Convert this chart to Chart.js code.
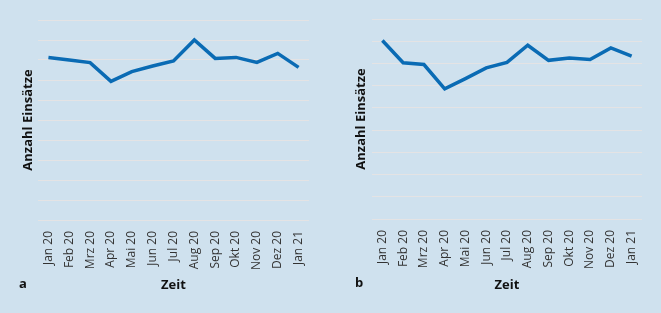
<!DOCTYPE html>
<html><head><meta charset="utf-8">
<script src="https://cdn.jsdelivr.net/npm/chart.js@4/dist/chart.umd.min.js"></script>
<style>
html,body{margin:0;padding:0;background:#cfe1ee;}
#wrap{position:relative;width:661px;height:313px;background:#cfe1ee;overflow:hidden;}
.pane{position:absolute;top:0;height:313px;}
.lbl{position:absolute;font-family:"Open Sans",sans-serif;font-weight:bold;font-size:13px;color:#111;}
</style></head><body>
<div id="wrap">
<div class="pane" style="left:0;width:330px"><canvas id="ca" width="330" height="313"></canvas></div>
<div class="pane" style="left:330px;width:331px"><canvas id="cb" width="331" height="313"></canvas></div>
<div class="lbl" style="left:19px;top:274px">a</div>
<div class="lbl" style="left:355px;top:273px">b</div>
</div>
<script>
const months = ["Jan 20","Feb 20","Mrz 20","Apr 20","Mai 20","Jun 20","Jul 20","Aug 20","Sep 20","Okt 20","Nov 20","Dez 20","Jan 21"];
const seriesA = [8.13, 8.0, 7.87, 6.93, 7.42, 7.7, 7.95, 9.0, 8.08, 8.13, 7.88, 8.33, 7.63];
const seriesB = [8.03, 7.03, 6.95, 5.86, 6.32, 6.80, 7.05, 7.82, 7.14, 7.25, 7.18, 7.70, 7.33];
const yMaxA = 10, yMaxB = 9;
const yTitle = "Anzahl Einsätze";
const xTitle = "Zeit";

const FONT = '"Open Sans", sans-serif';
const GRID = '#e4e3e4';
const LINE = '#0a6bb4';

function make(id, data, yMax, yW, rightPad, topPad, titlePad, xH) {
  return new Chart(document.getElementById(id), {
    type: 'line',
    data: { labels: months, datasets: [{ data: data, borderColor: LINE, borderWidth: 3.5, pointRadius: 0, fill: false, tension: 0, borderJoinStyle: 'miter' }] },
    options: {
      responsive: false, animation: false,
      layout: { padding: { left: 0, right: rightPad, top: topPad, bottom: 0 } },
      plugins: { legend: { display: false }, tooltip: { enabled: false } },
      scales: {
        x: {
          offset: true,
          grid: { display: false, drawTicks: false },
          border: { display: false },
          ticks: { minRotation: 90, maxRotation: 90, padding: 11, color: '#333', font: { family: FONT, size: 12 }, autoSkip: false },
          title: { display: true, text: xTitle, color: '#111', font: { family: FONT, size: 13, weight: 'bold' }, padding: { top: 2, bottom: 20 } },
          afterFit: (s) => { s.height = xH; }
        },
        y: {
          min: 0, max: yMax,
          ticks: { display: false, stepSize: 1 },
          grid: { color: GRID, lineWidth: 1, drawTicks: false },
          border: { display: false },
          title: { display: true, text: yTitle, color: '#111', font: { family: FONT, size: 13, weight: 'bold' }, padding: { top: titlePad, bottom: 0 } },
          afterFit: (s) => { s.width = yW; }
        }
      }
    }
  });
}
make('ca', seriesA, yMaxA, 38, 21, 20, 20, 93);
make('cb', seriesB, yMaxB, 42, 19, 19, 23, 94);
</script>
</body></html>
